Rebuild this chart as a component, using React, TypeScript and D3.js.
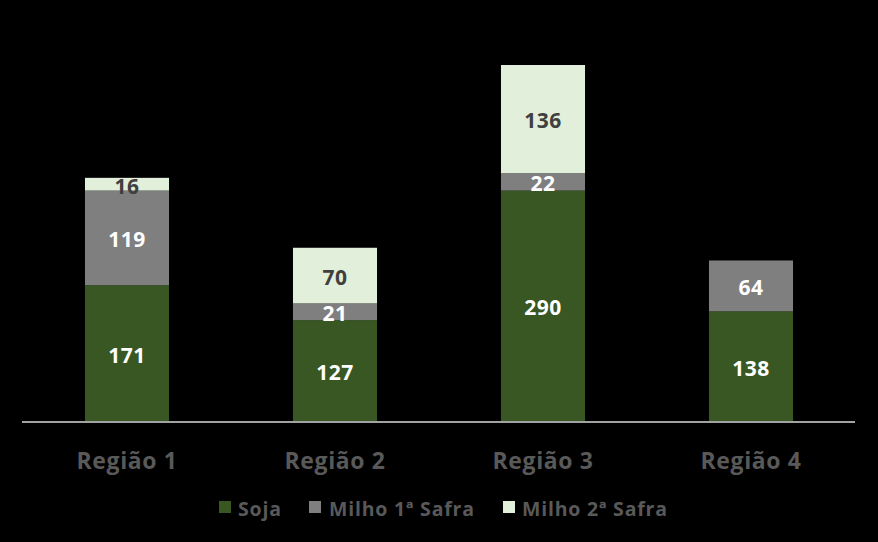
import React from "react";
import * as d3 from "d3";

const categories = ["Região 1", "Região 2", "Região 3", "Região 4"];
const seriesNames = ["Soja", "Milho 1ª Safra", "Milho 2ª Safra"];
const soja = [171, 127, 290, 138];
const milho1 = [119, 21, 22, 64];
const milho2 = [16, 70, 136, 0];

const colors = ["#385723", "#7f7f7f", "#e2efda"];
const labelColors = ["#ffffff", "#ffffff", "#404040"];

const W = 878, H = 542;
const FONT = "'Open Sans', 'DejaVu Sans', sans-serif";

export default function App() {
  const rows = categories.map((c, i) => ({ cat: c, s0: soja[i], s1: milho1[i], s2: milho2[i] }));
  const stack = d3.stack<any>().keys(["s0", "s1", "s2"]);
  const series = stack(rows);

  const x = d3.scaleBand().domain(categories).range([23, 855]).paddingInner(0.596).paddingOuter(0.298);
  const y = d3.scaleLinear().domain([0, 448]).range([421, 65]);

  return (
    <svg width={W} height={H} style={{ position: "absolute", left: 0, top: 0, background: "#000" }}>
      <rect x={0} y={0} width={W} height={H} fill="#000" />
      {series.map((s, si) => (
        <g key={si}>
          {s.map((d, i) => {
            const v = d[1] - d[0];
            if (v <= 0) return null;
            const x0 = x(categories[i])!;
            const yTop = y(d[1]);
            const yBot = y(d[0]);
            return (
              <g key={i}>
                <rect x={x0} y={yTop} width={x.bandwidth()} height={yBot - yTop} fill={colors[si]} />
                <text
                  x={x0 + x.bandwidth() / 2}
                  y={(yTop + yBot) / 2}
                  dy="0.45em"
                  textAnchor="middle"
                  fontFamily={FONT}
                  fontWeight="bold"
                  fontSize={21}
                  letterSpacing={0.5}
                  fill={labelColors[si]}
                >
                  {v}
                </text>
              </g>
            );
          })}
        </g>
      ))}
      <line x1={22} x2={855} y1={422} y2={422} stroke="#d9d9d9" strokeWidth={1.5} />
      {categories.map((c) => (
        <text
          key={c}
          x={x(c)! + x.bandwidth() / 2}
          y={469}
          textAnchor="middle"
          fontFamily={FONT}
          fontWeight="bold"
          fontSize={23}
          letterSpacing={0.6}
          fill="#595959"
        >
          {c}
        </text>
      ))}
      {[
        { name: seriesNames[0], sx: 219, tx: 238 },
        { name: seriesNames[1], sx: 309, tx: 329 },
        { name: seriesNames[2], sx: 503, tx: 522 },
      ].map((l, i) => (
        <g key={l.name}>
          <rect x={l.sx} y={501} width={12} height={12} fill={colors[i]} />
          <text x={l.tx} y={516} fontFamily={FONT} fontWeight="bold" fontSize={19.5} fill="#595959" letterSpacing={0.8}>
            {l.name}
          </text>
        </g>
      ))}
    </svg>
  );
}
